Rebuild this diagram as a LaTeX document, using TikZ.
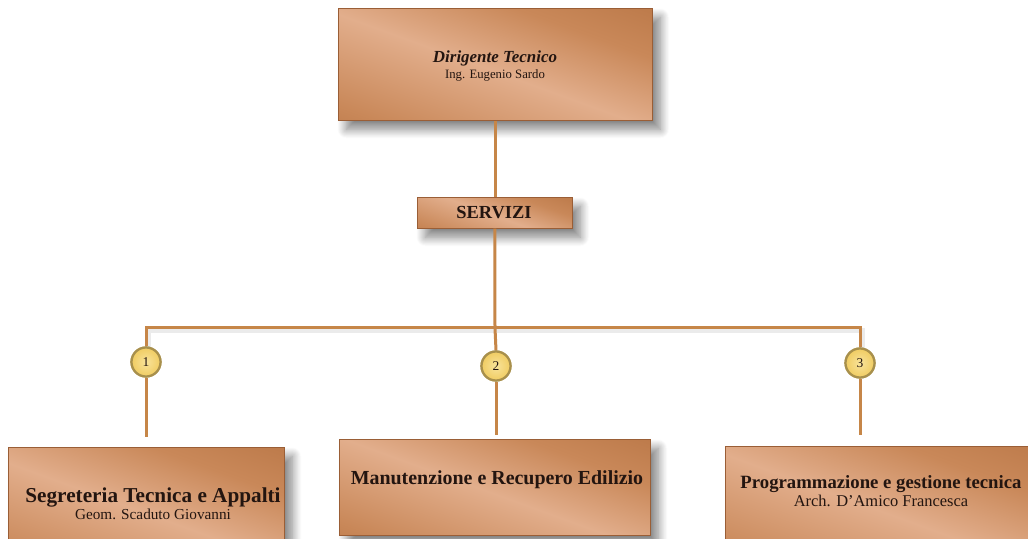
\documentclass[tikz,border=0pt]{standalone}
\usepackage{fontspec}
\setmainfont{Liberation Serif}
\usetikzlibrary{shadows.blur}
\definecolor{cuDark}{HTML}{AE6A39}
\definecolor{cuMid}{HTML}{C98859}
\definecolor{cuLight}{HTML}{E2AE8C}
\definecolor{cuEdge}{HTML}{9A5E36}
\definecolor{wire}{HTML}{C68648}
\definecolor{ink}{HTML}{231510}
\definecolor{badge}{HTML}{F0CC62}
\definecolor{badgeLight}{HTML}{F8E39A}
\definecolor{badgeEdge}{HTML}{A8904C}
\pgfdeclarehorizontalshading{copper}{100bp}{color(0bp)=(cuDark); color(22bp)=(cuMid); color(48bp)=(cuLight); color(68bp)=(cuMid); color(100bp)=(cuDark)}
\tikzset{
  cubox/.style={draw=cuEdge, line width=0.6bp, shading=copper, shading angle=70,
    blur shadow={shadow xshift=8bp, shadow yshift=-9bp, shadow blur steps=18, shadow blur radius=9bp, shadow opacity=50},
    anchor=north west, inner sep=0pt},
  lbl/.style={text=ink, align=center, inner sep=0pt},
  wire/.style={draw=wire, line width=3bp},
  wireshadow/.style={draw=black, opacity=0.08, line width=5bp},
  badgenode/.style={circle, minimum size=29bp, inner sep=0pt, draw=badgeEdge, line width=2.2bp,
    inner color=badgeLight, outer color=badge, text=ink, font=\fontsize{13.5}{15}\selectfont},
}
\begin{document}
\begin{tikzpicture}[x=1bp, y=-1bp]
\useasboundingbox (0,0) rectangle (1028,539);
\clip (0,0) rectangle (1028,539);
% boxes
\node[cubox, minimum width=314bp, minimum height=112bp] (top) at (338,8) {};
\node[cubox, minimum width=155bp, minimum height=31bp] (serv) at (417,197) {};
\node[cubox, minimum width=276bp, minimum height=118bp] (b1) at (8,447) {};
\node[cubox, minimum width=311bp, minimum height=96bp] (b2) at (339,439) {};
\node[cubox, minimum width=320bp, minimum height=118bp] (b3) at (725,446) {};
% badges
\node[badgenode] (c1) at (146,362) {1};
\node[badgenode] (c2) at (496,366) {2};
\node[badgenode] (c3) at (860,363) {3};
\coordinate (hub) at (495,328);
% wire shadows
\draw[wireshadow] ([xshift=2bp,yshift=-3bp]c1.north) |- ([yshift=-3bp]hub) -| ([xshift=2bp,yshift=-3bp]c3.north);
% connectors
\draw[wire] (top.south) -- (top.south |- serv.north);
\draw[wire] (serv.south) -- (hub);
\draw[wire] (c1.north) |- (hub) -| (c3.north);
\draw[wire] (hub) -- (c2.north);
\draw[wire, shorten >=10bp] (c1.south) -- (c1.south |- b1.north);
\draw[wire, shorten >=4bp] (c2.south) -- (c2.south |- b2.north);
\draw[wire, shorten >=11bp] (c3.south) -- (c3.south |- b3.north);
\node[badgenode] at (c1) {1};
\node[badgenode] at (c2) {2};
\node[badgenode] at (c3) {3};
% labels
\node[lbl] (ttop) at (495,66) {{\fontsize{17}{20}\selectfont\bfseries\itshape Dirigente Tecnico}\\[3bp]{\fontsize{12.8}{16}\selectfont Ing. Eugenio Sardo}};
\node[lbl] (tserv) at (494,213) {\fontsize{18.5}{20}\selectfont\bfseries SERVIZI};
\node[lbl] (tb1) at (153,504) {{\fontsize{21.3}{23}\selectfont\bfseries Segreteria Tecnica e Appalti}\\[1bp]{\fontsize{15.3}{18}\selectfont Geom. Scaduto Giovanni}};
\node[lbl] (tb2) at (497,480) {\fontsize{20}{23}\selectfont\bfseries Manutenzione e Recupero Edilizio};
\node[lbl] (tb3) at (881,491) {{\fontsize{18.8}{21}\selectfont\bfseries Programmazione e gestione tecnica}\\[1bp]{\fontsize{16.5}{19}\selectfont Arch. D'Amico Francesca}};
\end{tikzpicture}
\end{document}
